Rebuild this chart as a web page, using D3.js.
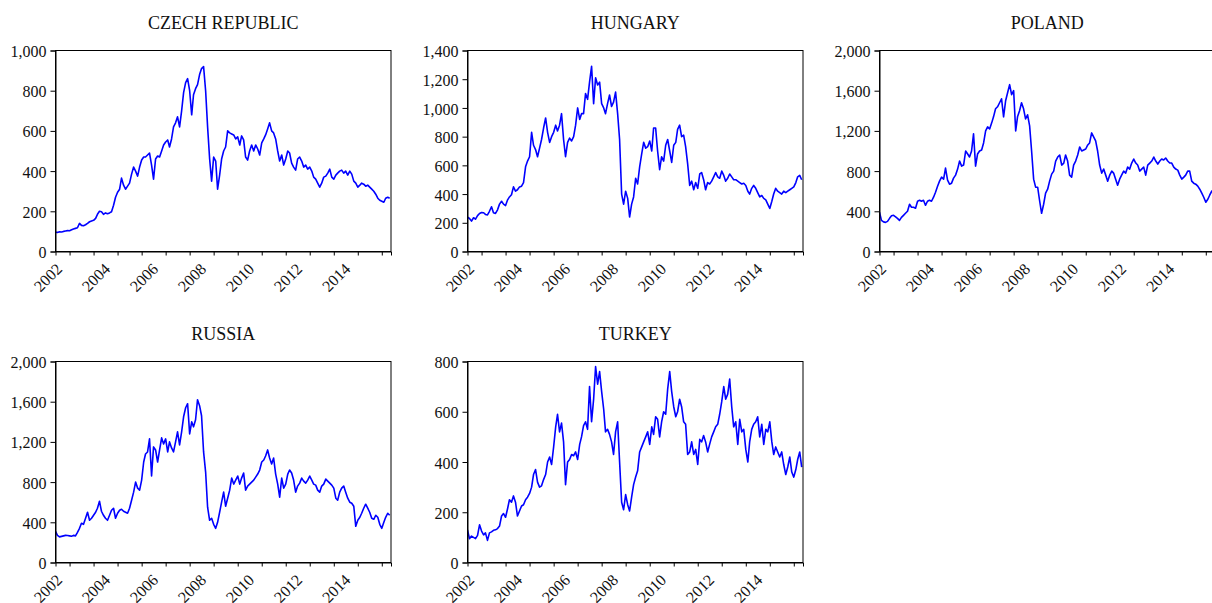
<!DOCTYPE html>
<html>
<head>
<meta charset="utf-8">
<script src="https://cdn.jsdelivr.net/npm/d3@7"></script>
<style>
  html, body { margin: 0; padding: 0; background: #fff; }
  svg { display: block; }
  text { font-family: "Liberation Serif", "Times New Roman", serif; fill: #111; }
</style>
</head>
<body>
<svg id="chart" width="1212" height="603"></svg>
<script>
// ---- data (monthly) ----
const countries = ["CZECH REPUBLIC", "HUNGARY", "POLAND", "RUSSIA", "TURKEY"];
const startMonth = new Date(2001, 5, 1);   // first observation
const endMonth = new Date(2015, 5, 1);     // exclusive
const tickYears = [2002,2003,2004,2005,2006,2007,2008,2009,2010,2011,2012,2013,2014,2015];
const labelYears = [2002,2004,2006,2008,2010,2012,2014];

const czech = [
  96,95,98,97,100,102,104,103,108,112,115,118,
  140,130,128,133,140,148,152,155,165,185,200,198,
  185,192,188,192,198,230,270,295,310,365,330,310,
  325,340,385,420,400,375,420,455,470,470,480,490,
  430,360,460,475,470,500,530,545,555,520,560,620,
  640,670,620,700,790,840,860,800,680,780,810,830,
  880,910,920,800,620,460,350,470,450,310,380,460,
  500,520,600,590,585,580,560,570,530,575,555,470,
  455,500,530,500,530,510,480,540,560,580,610,640,
  600,590,560,500,450,480,430,460,500,490,440,420,
  405,460,470,450,420,430,410,420,400,370,360,340,
  320,340,370,375,390,410,370,360,380,390,400,405,
  390,400,380,400,385,350,340,320,330,340,335,325,
  330,320,310,300,285,265,255,250,245,265,270,265
];
const hungary = [
  240,230,212,235,225,250,265,272,270,258,255,280,
  312,270,265,290,330,350,330,320,360,380,395,450,
  420,430,450,455,480,590,630,660,830,740,710,660,
  720,780,860,930,830,760,800,830,880,840,880,960,
  780,660,760,790,770,800,880,1000,920,960,960,1100,
  1060,1180,1290,1030,1210,1160,1180,1030,1000,960,1030,1090,
  1010,1040,1110,960,780,400,330,420,370,240,330,380,
  510,470,590,680,760,720,730,770,700,860,860,700,
  570,660,630,740,780,700,620,740,760,850,880,800,
  810,730,610,460,490,430,480,440,540,550,500,430,
  480,470,490,520,550,520,510,560,530,490,510,540,
  520,500,500,490,480,470,475,460,420,400,440,460,
  440,410,380,390,370,360,330,300,350,400,440,420,
  410,400,420,410,420,430,440,450,480,520,530,500
];
const poland = [
  390,310,295,290,300,330,355,360,345,330,310,340,
  360,380,400,470,440,440,430,500,510,500,510,460,
  500,510,500,540,590,650,700,740,720,830,710,670,
  680,730,760,820,900,850,860,1000,970,940,1000,1170,
  850,970,1000,1010,1080,1200,1240,1220,1280,1340,1420,1440,
  1480,1520,1340,1500,1580,1660,1560,1600,1200,1340,1400,1480,
  1420,1320,1360,1250,1000,720,640,640,500,380,470,580,
  620,700,770,800,900,940,960,860,880,960,900,760,
  740,860,900,960,1040,1000,1010,1020,1060,1080,1180,1140,
  1100,1000,860,780,820,760,700,760,800,780,720,660,
  720,760,800,780,840,820,880,920,880,860,800,820,
  840,760,860,880,900,940,900,870,900,920,910,930,
  900,880,880,840,820,810,760,720,740,760,800,800,
  700,680,670,650,620,580,540,490,520,560,600,620
];
const russia = [
  310,270,255,260,265,270,268,265,262,270,265,300,
  340,390,380,440,500,420,440,470,500,540,610,510,
  470,440,420,470,520,540,440,490,520,530,510,500,
  490,540,620,700,800,740,720,820,1000,1080,1100,1230,
  860,1150,1120,1000,1120,1240,1180,1230,1100,1200,1140,1100,
  1200,1300,1170,1300,1450,1540,1580,1280,1400,1350,1420,1620,
  1560,1460,1100,900,550,420,440,380,340,400,500,600,
  700,560,640,720,840,780,820,860,780,840,890,720,
  760,780,800,820,850,880,920,1000,1020,1060,1120,1040,
  980,1040,880,780,650,840,740,780,880,920,890,820,
  700,760,790,840,810,790,820,860,820,780,770,720,
  700,760,780,830,810,790,770,740,640,620,700,740,
  760,700,640,600,590,560,360,420,450,490,540,580,
  540,500,440,430,470,450,380,340,400,450,490,470
];
const turkey = [
  130,95,105,100,95,108,150,125,110,118,88,118,
  122,128,130,135,145,185,195,180,215,250,240,265,
  240,185,205,225,230,250,260,275,300,350,370,320,
  300,305,330,350,400,420,390,460,540,590,520,555,
  480,310,400,410,430,425,440,410,470,500,545,560,
  530,700,560,650,780,710,760,680,610,520,530,510,
  480,430,520,560,400,240,210,270,230,205,260,310,
  340,365,440,460,480,500,520,470,540,510,580,570,
  500,560,600,590,690,760,680,620,580,600,650,620,
  560,550,430,440,480,430,450,390,490,480,505,480,
  440,470,500,520,540,550,590,640,700,650,670,730,
  620,540,560,470,570,520,530,450,400,480,530,550,
  560,580,500,550,470,530,520,560,480,430,460,440,
  420,440,390,350,380,420,360,340,370,410,440,380
];
const seriesList = [czech, hungary, poland, russia, turkey];
const yMaxes = [1000, 1400, 2000, 2000, 800];
const yTicks = [
  [0,200,400,600,800,1000],
  [0,200,400,600,800,1000,1200,1400],
  [0,400,800,1200,1600,2000],
  [0,400,800,1200,1600,2000],
  [0,200,400,600,800]
];

// ---- layout ----
const panelW = 335.5, panelH = 201;
const lefts = [55.5, 467.5, 879.5, 55.5, 467.5];
const tops  = [50.5, 50.5, 50.5, 361.5, 361.5];

const months = d3.timeMonth.range(startMonth, endMonth);
const svg = d3.select("#chart");
const fmt = d3.format(",");

countries.forEach((name, i) => {
  const vals = seriesList[i];
  const data = months.map((d, k) => ({ date: d, v: vals[k] }));
  const x = d3.scaleTime()
    .domain([startMonth, new Date(2015, 4, 21)])
    .range([0, panelW]);
  const y = d3.scaleLinear().domain([0, yMaxes[i]]).range([panelH, 0]);

  const g = svg.append("g").attr("transform", `translate(${lefts[i]},${tops[i]})`);

  // title
  g.append("text")
    .attr("x", panelW / 2).attr("y", -22)
    .attr("text-anchor", "middle")
    .style("font-size", "18px")
    .text(name);

  // clip for the series
  const clipId = "clip" + i;
  g.append("clipPath").attr("id", clipId)
    .append("rect").attr("width", panelW).attr("height", panelH);

  // line
  const line = d3.line().x(d => x(d.date)).y(d => y(d.v));
  g.append("path")
    .datum(data)
    .attr("clip-path", `url(#${clipId})`)
    .attr("fill", "none")
    .attr("stroke", "#0000ff")
    .attr("stroke-width", 1.6)
    .attr("stroke-linejoin", "round")
    .attr("d", line);

  // frame
  g.append("rect")
    .attr("width", panelW).attr("height", panelH)
    .attr("fill", "none").attr("stroke", "#000").attr("stroke-width", 1);

  // y axis
  const ya = g.append("g")
    .call(d3.axisLeft(y).tickValues(yTicks[i]).tickSize(5).tickPadding(4).tickFormat(fmt));
  ya.select(".domain").attr("stroke", "#000");
  ya.selectAll("line").attr("stroke", "#000");
  ya.selectAll("text")
    .style("font-size", "16px")
    .style("font-family", "'Liberation Serif', serif")
    .attr("fill", "#111")
    .attr("dy", "0.38em");

  // x axis
  const xa = g.append("g").attr("transform", `translate(0,${panelH})`)
    .call(d3.axisBottom(x)
      .tickValues(tickYears.map(yy => new Date(yy, 0, 1)))
      .tickSize(4).tickFormat(""));
  xa.select(".domain").attr("stroke", "#000");
  xa.selectAll("line").attr("stroke", "#000");

  g.selectAll(".xlab")
    .data(labelYears)
    .join("text")
    .attr("class", "xlab")
    .attr("transform", yy => `translate(${x(new Date(yy, 0, 1)) - 6.5},${panelH + 18.5}) rotate(-45)`)
    .attr("text-anchor", "end")
    .style("font-size", "16px")
    .text(yy => yy);
});
</script>
</body>
</html>
